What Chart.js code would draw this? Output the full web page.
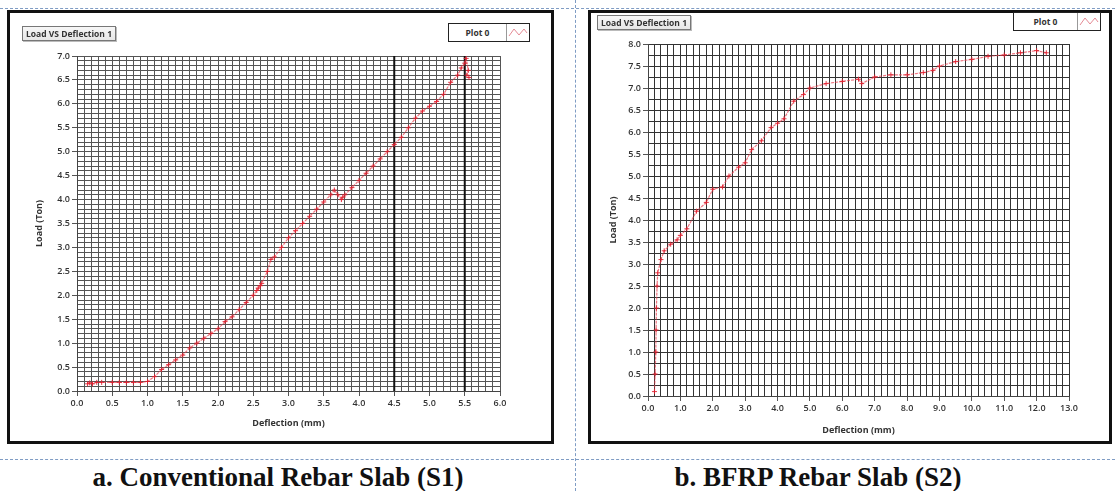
<!DOCTYPE html>
<html lang="en">
<head>
  <meta charset="UTF-8">
  <title>Load VS Deflection</title>
  <script src="https://cdn.jsdelivr.net/npm/chart.js"></script>
  <style>
    html, body {
      margin: 0;
      padding: 0;
      width: 1115px;
      height: 491px;
      background: #fff;
      overflow: hidden;
      font-family: 'Open Sans', sans-serif;
    }
    .dash-h {
      position: absolute;
      left: 0;
      width: 1115px;
      border-top: 1px dashed #7f9cc4;
    }
    .dash-v {
      position: absolute;
      top: 0;
      height: 491px;
      border-left: 1px dashed #7f9cc4;
    }
    .frame {
      position: absolute;
      border: 3px solid #111;
      background: #fff;
    }
    .frame canvas {
      position: absolute;
      left: 0;
      top: 0;
    }
    .graph-title {
      position: absolute;
      font-size: 8.5px;
      font-weight: 700;
      color: #333;
      padding: 1px 3px;
      border: 1px solid #777;
      background: linear-gradient(#f7f7f7, #e6e6e6);
      box-shadow: 1px 1px 0 #bbb;
      white-space: nowrap;
      z-index: 2;
    }
    .plot-legend {
      position: absolute;
      height: 17px;
      border: 1.5px solid #222;
      background: #fff;
      display: flex;
      align-items: center;
      font-size: 8.5px;
      font-weight: 700;
      color: #333;
      z-index: 2;
    }
    .plot-legend span { flex: 1; text-align: center; }
    .plot-legend svg { border-left: 1px solid #999; height: 17px; width: 22px; }
    .caption {
      position: absolute;
      top: 462px;
      width: 500px;
      text-align: center;
      font-family: 'Liberation Serif', 'Times New Roman', serif;
      font-weight: 700;
      font-size: 27px;
      color: #111;
      white-space: nowrap;
    }
  </style>
</head>
<body>
<div class="dash-h" style="top:8px"></div>
<div class="dash-h" style="top:459px"></div>
<div class="dash-v" style="left:575px"></div>

<div class="frame" style="left:7px; top:10px; width:541px; height:428px">
  <canvas id="chartS1" width="541" height="428"></canvas>
</div>
<div class="graph-title" style="left:22px; top:26px">Load VS Deflection 1</div>
<div class="plot-legend" style="left:448px; top:23px; width:80px">
  <span>Plot 0</span>
  <svg viewBox="0 0 22 17"><polyline points="2,12 7,5 12,11 17,5 20,9" fill="none" stroke="#e58a94" stroke-width="1"/></svg>
</div>

<div class="frame" style="left:588px; top:10px; width:518px; height:428px">
  <canvas id="chartS2" width="518" height="428"></canvas>
</div>
<div class="graph-title" style="left:597px; top:15px">Load VS Deflection 1</div>
<div class="plot-legend" style="left:1013px; top:12px; width:86px">
  <span>Plot 0</span>
  <svg viewBox="0 0 22 17"><polyline points="2,12 7,5 12,11 17,5 20,9" fill="none" stroke="#e58a94" stroke-width="1"/></svg>
</div>

<div class="caption" style="left:28px">a. Conventional Rebar Slab (S1)</div>
<div class="caption" style="left:568px">b. BFRP Rebar Slab (S2)</div>

<script>
// S1 - conventional rebar slab
const s1Deflection = [0.15, 0.18, 0.22, 0.28, 0.35, 0.5, 0.6, 0.7, 0.8, 0.9, 1.0, 1.1, 1.2, 1.3, 1.4, 1.5, 1.6, 1.7, 1.8, 1.9, 2.0, 2.1, 2.2, 2.3, 2.4, 2.5, 2.55, 2.6, 2.57, 2.62, 2.7, 2.75, 2.8, 2.9, 3.0, 3.1, 3.2, 3.3, 3.4, 3.5, 3.6, 3.65, 3.7, 3.75, 3.77, 3.8, 3.9, 4.0, 4.1, 4.2, 4.3, 4.4, 4.5, 4.6, 4.7, 4.8, 4.9, 5.0, 5.1, 5.2, 5.3, 5.4, 5.45, 5.5, 5.52, 5.55, 5.53, 5.56];
const s1Load = [0.15, 0.17, 0.15, 0.18, 0.18, 0.18, 0.18, 0.18, 0.18, 0.18, 0.2, 0.3, 0.45, 0.55, 0.65, 0.75, 0.9, 1.0, 1.1, 1.2, 1.3, 1.45, 1.55, 1.7, 1.85, 2.0, 2.1, 2.2, 2.15, 2.25, 2.5, 2.75, 2.8, 3.0, 3.2, 3.35, 3.5, 3.65, 3.8, 3.95, 4.1, 4.2, 4.1, 4.0, 4.05, 4.1, 4.25, 4.4, 4.55, 4.7, 4.85, 5.0, 5.15, 5.3, 5.5, 5.7, 5.85, 5.95, 6.05, 6.2, 6.45, 6.6, 6.75, 6.85, 6.95, 6.7, 6.6, 6.55];
const s1Cursors = [4.5, 5.5];

// S2 - BFRP rebar slab
const s2Deflection = [0.2, 0.22, 0.24, 0.25, 0.26, 0.28, 0.3, 0.4, 0.5, 0.7, 0.9, 1.0, 1.2, 1.5, 1.8, 2.0, 2.3, 2.5, 2.8, 3.0, 3.2, 3.5, 3.8, 4.0, 4.2, 4.5, 4.8, 5.0, 5.5, 6.0, 6.5, 6.6, 7.0, 7.5, 8.0, 8.5, 8.8, 9.0, 9.5, 10.0, 10.5, 11.0, 11.5, 12.0, 12.3];
const s2Load = [0.1, 0.5, 1.0, 1.5, 2.0, 2.5, 2.8, 3.1, 3.3, 3.45, 3.55, 3.65, 3.8, 4.2, 4.4, 4.7, 4.75, 5.0, 5.2, 5.3, 5.6, 5.8, 6.1, 6.2, 6.3, 6.7, 6.85, 7.0, 7.1, 7.15, 7.2, 7.1, 7.25, 7.3, 7.3, 7.35, 7.4, 7.5, 7.6, 7.65, 7.72, 7.75, 7.8, 7.85, 7.8];

const s1Ticks = { xMax: 6, xStep: 0.1, xLabelEvery: 0.5, yMax: 7, yStep: 0.1, yLabelEvery: 0.5 };
const s2Ticks = { xMax: 13, xStep: 0.2, xLabelEvery: 1.0, yMax: 8, yStep: 0.25, yLabelEvery: 0.5 };

Chart.defaults.font.family = "'Open Sans', sans-serif";
Chart.defaults.font.size = 9;
Chart.defaults.font.weight = 600;
Chart.defaults.color = '#333';

function isMajor(v, every) {
  const r = v / every;
  return Math.abs(r - Math.round(r)) < 1e-6;
}

function pairs(xs, ys) {
  return xs.map((x, i) => ({ x: x, y: ys[i] }));
}

function axis(max, step, every, gridColor, titleText, titlePad, fitSize, horizontal) {
  return {
    type: 'linear',
    min: 0,
    max: max,
    ticks: {
      stepSize: step,
      autoSkip: false,
      maxTicksLimit: 200,
      maxRotation: 0,
      padding: 2,
      callback: v => isMajor(v, every) ? v.toFixed(1) : ''
    },
    grid: {
      color: gridColor,
      lineWidth: 1,
      tickLength: 5,
      tickColor: c => (c.tick && isMajor(c.tick.value, every)) ? '#555' : 'rgba(0,0,0,0)'
    },
    border: { color: '#444' },
    title: { display: true, text: titleText, padding: titlePad, font: { size: 9, weight: 700 } },
    afterFit: s => { if (horizontal) s.height = fitSize; else s.width = fitSize; }
  };
}

function curveDataset(xs, ys) {
  return {
    data: pairs(xs, ys),
    showLine: true,
    borderColor: 'rgba(232, 60, 75, 0.7)',
    backgroundColor: 'rgba(232, 60, 75, 0.7)',
    pointBorderColor: 'rgba(225, 30, 45, 0.9)',
    borderWidth: 1.2,
    borderDash: [3, 1],
    pointStyle: 'cross',
    pointRadius: 2.5,
    pointBorderWidth: 1,
    order: 1
  };
}

// left chart
const s1Sets = [curveDataset(s1Deflection, s1Load)];
s1Cursors.forEach(c => {
  s1Sets.push({
    data: [{ x: c, y: 0 }, { x: c, y: s1Ticks.yMax }],
    showLine: true,
    borderColor: '#111',
    borderWidth: 2,
    pointRadius: 0,
    order: 2
  });
});

new Chart(document.getElementById('chartS1'), {
  type: 'scatter',
  data: { datasets: s1Sets },
  options: {
    responsive: false,
    animation: false,
    layout: { padding: { top: 43, right: 51, left: 0, bottom: 0 } },
    plugins: { legend: { display: false }, tooltip: { enabled: false } },
    scales: {
      x: axis(s1Ticks.xMax, s1Ticks.xStep, s1Ticks.xLabelEvery, '#555', 'Deflection (mm)', { top: 2, bottom: 12 }, 50, true),
      y: axis(s1Ticks.yMax, s1Ticks.yStep, s1Ticks.yLabelEvery, '#555', 'Load (Ton)', { top: 24, bottom: 0 }, 67, false)
    }
  }
});

// right chart
new Chart(document.getElementById('chartS2'), {
  type: 'scatter',
  data: { datasets: [curveDataset(s2Deflection, s2Load)] },
  options: {
    responsive: false,
    animation: false,
    layout: { padding: { top: 31, right: 40, left: 0, bottom: 0 } },
    plugins: { legend: { display: false }, tooltip: { enabled: false } },
    scales: {
      x: axis(s2Ticks.xMax, s2Ticks.xStep, s2Ticks.xLabelEvery, '#333', 'Deflection (mm)', { top: 2, bottom: 5 }, 45, true),
      y: axis(s2Ticks.yMax, s2Ticks.yStep, s2Ticks.yLabelEvery, '#333', 'Load (Ton)', { top: 17, bottom: 0 }, 57, false)
    }
  }
});
</script>
</body>
</html>
